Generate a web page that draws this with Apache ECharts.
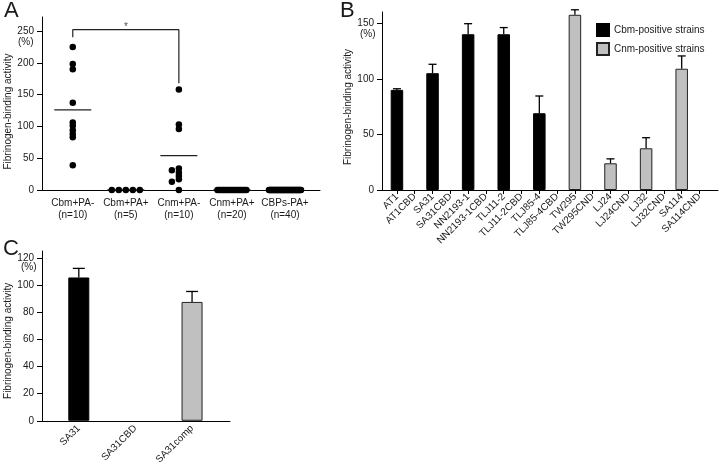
<!DOCTYPE html>
<html><head><meta charset="utf-8">
<script src="https://cdn.jsdelivr.net/npm/echarts@6/dist/echarts.min.js"></script>
<style>html,body{margin:0;padding:0;background:#fff}#c{width:720px;height:467px}</style>
</head><body><div id="c"></div>
<script>
// ---------- Panel A data ----------
const catsA = ['Cbm+PA-', 'Cbm+PA+', 'Cnm+PA-', 'Cnm+PA+', 'CBPs-PA+'];
const countsA = ['(n=10)', '(n=5)', '(n=10)', '(n=20)', '(n=40)'];
const valsCbmPAneg = [225, 198, 190, 137, 106, 101, 94, 88, 83, 39];
const valsCbmPApos = [0, 0, 0, 0, 0];
const valsCnmPAneg = [158, 103, 96, 34, 31, 27, 22, 17, 13, 0];
const valsCnmPApos = [0, 0, 0, 0, 0, 0, 0, 0, 0, 0, 0, 0, 0, 0, 0, 0, 0, 0, 0, 0];
const valsCBPsPApos = [0, 0, 0, 0, 0, 0, 0, 0, 0, 0, 0, 0, 0, 0, 0, 0, 0, 0, 0, 0,
                       0, 0, 0, 0, 0, 0, 0, 0, 0, 0, 0, 0, 0, 0, 0, 0, 0, 0, 0, 0];
const meansA = [126, 0, 54, 0, 0];
const ticksA = [0, 50, 100, 150, 200, 250];
const bracketA = { from: 1, to: 3, top: 252, leftEnd: 240, rightEnd: 168, mark: '*' };

// ---------- Panel B data ----------
const cbmStrains = ['AT1', 'AT1CBD', 'SA31', 'SA31CBD', 'NN2193-1', 'NN2193-1CBD', 'TLJ11-2', 'TLJ11-2CBD', 'TLJ85-4', 'TLJ85-4CBD'];
const cbmValues = [90, 0, 105, 0, 140, 0, 140, 0, 69, 0];
const cbmErrors = [1, 0, 8, 0, 9.5, 0, 6, 0, 15.5, 0];
const cnmStrains = ['TW295', 'TW295CND', 'LJ24', 'LJ24CND', 'LJ32', 'LJ32CND', 'SA114', 'SA114CND'];
const cnmValues = [157.5, 0, 24, 0, 37.5, 0, 109, 0];
const cnmErrors = [4.5, 0, 4, 0, 9.5, 0, 11.5, 0];
const ticksB = [0, 50, 100, 150];
const legendB = ['Cbm-positive strains', 'Cnm-positive strains'];

// ---------- Panel C data ----------
const catsC = ['SA31', 'SA31CBD', 'SA31comp'];
const valsC = [105.5, 0, 87.5];
const errC = [6.7, 0, 7.7];
const ticksC = [0, 20, 40, 60, 80, 100, 120];

const yName = 'Fibrinogen-binding activity';

// ---------- styling / layout ----------
const FONT = '"Liberation Sans", Arial, sans-serif';
const TXT = '#1a1a1a';
const BLACK = '#000000';
const GRAY = '#c0c0c0';

const gA = { left: 42, top: 17, width: 278, height: 173 };
const xA = { min: 0.42, max: 5.66 };
const yA = { min: 0, max: 272 };
const gB = { left: 382, top: 12, width: 336, height: 178 };
const xB = { min: -0.84, max: 18.04 };
const yB = { min: 0, max: 160 };
const gC = { left: 42, top: 251, width: 188, height: 174 };
const xC = { min: -0.65, max: 2.67 };
const yC = { min: 0, max: 125 };

// beeswarm layout for panel A (pixel-space collision, converted back to axis units)
const pxX = gA.width / (xA.max - xA.min);
const pxY = gA.height / (yA.max - yA.min);
function swarm(vals, pos) {
  const out = [];
  const zeros = vals.filter(v => v === 0).length;
  const placed = [];
  const sorted = vals.filter(v => v !== 0).slice().sort((a, b) => b - a);
  sorted.forEach(v => {
    const steps = [0, -7, 7, -14, 14, -21, 21];
    for (const s of steps) {
      const ok = placed.every(p => Math.hypot(p.dx - s, (p.v - v) * pxY) >= 3);
      if (ok) { placed.push({ v: v, dx: s }); break; }
    }
  });
  placed.forEach(p => out.push([pos + p.dx / pxX, p.v]));
  if (zeros === 1) out.push([pos, 0]);
  else if (zeros > 1) {
    const spread = zeros <= 5 ? (zeros - 1) * 7 : Math.min(26 + zeros * 0.15, 33);
    for (let i = 0; i < zeros; i++) {
      out.push([pos + (-spread / 2 + spread * i / (zeros - 1)) / pxX, 0]);
    }
  }
  return out;
}
const groupsA = [valsCbmPAneg, valsCbmPApos, valsCnmPAneg, valsCnmPApos, valsCBPsPApos];
const dotsA = [];
groupsA.forEach((g, i) => swarm(g, i + 1).forEach(d => dotsA.push(d)));
const meanData = meansA.map((m, i) => [i + 1, m]);

// panel B built data (zero-height bars are left out)
const catsB = cbmStrains.concat(cnmStrains);
const blackData = cbmValues.map((v, i) => v ? [i, v] : [i, '-']);
const grayData = cnmValues.map((v, i) => v ? [i + cbmStrains.length, v] : [i + cbmStrains.length, '-']);
const errDataB = cbmValues.map((v, i) => [i, v, cbmErrors[i]])
  .concat(cnmValues.map((v, i) => [i + cbmStrains.length, v, cnmErrors[i]]));
const idxB = catsB.map((c, i) => i);
const idxC = catsC.map((c, i) => i);

function errRender(capW) {
  return function (params, api) {
    const x = api.value(0), v = api.value(1), e = api.value(2);
    if (!e) return null;
    const p0 = api.coord([x, v]);
    const p1 = api.coord([x, v + e]);
    const st = { stroke: BLACK, lineWidth: 1.3 };
    return {
      type: 'group', children: [
        { type: 'line', shape: { x1: p0[0], y1: p0[1], x2: p1[0], y2: p1[1] }, style: st },
        { type: 'line', shape: { x1: p1[0] - capW / 2, y1: p1[1], x2: p1[0] + capW / 2, y2: p1[1] }, style: st }
      ]
    };
  };
}

function yAxisCfg(gi, lim, ticks, gap, shift) {
  return {
    type: 'value', gridIndex: gi, min: lim.min, max: lim.max,
    name: yName, nameLocation: 'middle', nameGap: gap, nameRotate: 90,
    nameTextStyle: { fontSize: 10, color: TXT, fontFamily: FONT, padding: [0, shift, 0, 0] },
    axisLine: { show: true, onZero: false, lineStyle: { color: BLACK, width: 1 } },
    axisTick: { show: true, length: 5, customValues: ticks, lineStyle: { color: BLACK } },
    axisLabel: { customValues: ticks, fontSize: 10, color: TXT, fontFamily: FONT, margin: 8 },
    splitLine: { show: false }
  };
}

const chart = echarts.init(document.getElementById('c'), null, { renderer: 'canvas' });
chart.setOption({
  animation: false,
  backgroundColor: '#ffffff',
  textStyle: { fontFamily: FONT },
  graphic: [
    { type: 'text', left: 4, top: 0, style: { text: 'A', fontSize: 22, fill: TXT, fontFamily: FONT } },
    { type: 'text', left: 340, top: 0, style: { text: 'B', fontSize: 22, fill: TXT, fontFamily: FONT } },
    { type: 'text', left: 3, top: 238, style: { text: 'C', fontSize: 22, fill: TXT, fontFamily: FONT } },
    { type: 'text', left: 18, top: 37, style: { text: '(%)', fontSize: 10, fill: TXT, fontFamily: FONT } },
    { type: 'text', left: 360, top: 29, style: { text: '(%)', fontSize: 10, fill: TXT, fontFamily: FONT } },
    { type: 'text', left: 21, top: 262, style: { text: '(%)', fontSize: 10, fill: TXT, fontFamily: FONT } }
  ],
  legend: {
    data: legendB, orient: 'vertical', left: 591, top: 18, itemWidth: 12, itemHeight: 12, itemGap: 5,
    icon: 'rect', textStyle: { fontSize: 10, color: TXT, fontFamily: FONT }
  },
  grid: [Object.assign({}, gA), Object.assign({}, gB), Object.assign({}, gC)],
  xAxis: [
    {
      type: 'value', gridIndex: 0, min: xA.min, max: xA.max,
      axisLine: { show: true, onZero: false, lineStyle: { color: BLACK } },
      axisTick: { show: false },
      axisLabel: {
        customValues: [1, 2, 3, 4, 5], fontSize: 10, color: TXT, fontFamily: FONT, margin: 7, lineHeight: 12,
        formatter: v => catsA[Math.round(v) - 1] + '\n' + countsA[Math.round(v) - 1]
      },
      splitLine: { show: false }
    },
    {
      type: 'value', gridIndex: 1, min: xB.min, max: xB.max,
      axisLine: { show: true, onZero: false, lineStyle: { color: BLACK } },
      axisTick: { show: true, length: 4, customValues: idxB, lineStyle: { color: BLACK } },
      axisLabel: {
        customValues: idxB, rotate: 45, fontSize: 10, color: TXT, fontFamily: FONT, margin: 5,
        formatter: v => catsB[Math.round(v)]
      },
      splitLine: { show: false }
    },
    {
      type: 'value', gridIndex: 2, min: xC.min, max: xC.max,
      axisLine: { show: true, onZero: false, lineStyle: { color: BLACK } },
      axisTick: { show: false },
      axisLabel: {
        customValues: idxC, rotate: 45, fontSize: 10, color: TXT, fontFamily: FONT, margin: 6,
        formatter: v => catsC[Math.round(v)]
      },
      splitLine: { show: false }
    }
  ],
  yAxis: [
    yAxisCfg(0, yA, ticksA, 29, 16),
    yAxisCfg(1, yB, ticksB, 24, 12),
    yAxisCfg(2, yC, ticksC, 27, 10)
  ],
  series: [
    {
      type: 'scatter', xAxisIndex: 0, yAxisIndex: 0, data: dotsA, symbol: 'circle', symbolSize: 6.5,
      itemStyle: { color: BLACK, opacity: 1 }, z: 3
    },
    {
      type: 'scatter', xAxisIndex: 0, yAxisIndex: 0, data: meanData, symbol: 'rect', symbolSize: [37, 1.3],
      itemStyle: { color: '#222', opacity: 1 }, z: 2
    },
    {
      type: 'line', xAxisIndex: 0, yAxisIndex: 0, symbol: 'none',
      data: [[bracketA.from, bracketA.leftEnd], [bracketA.from, bracketA.top], [bracketA.to, bracketA.top], [bracketA.to, bracketA.rightEnd]],
      lineStyle: { color: '#222', width: 1.2 }
    },
    {
      type: 'scatter', xAxisIndex: 0, yAxisIndex: 0, symbolSize: 0,
      data: [[(bracketA.from + bracketA.to) / 2, bracketA.top]],
      label: { show: true, formatter: bracketA.mark, position: 'top', distance: 1, offset: [0, 4], fontSize: 10, color: TXT }
    },
    {
      name: legendB[0], type: 'bar', xAxisIndex: 1, yAxisIndex: 1, data: blackData, barWidth: 12.5, barGap: '-100%',
      itemStyle: { color: BLACK, borderColor: BLACK, borderWidth: 1 }
    },
    {
      name: legendB[1], type: 'bar', xAxisIndex: 1, yAxisIndex: 1, data: grayData, barWidth: 12.5, barGap: '-100%',
      itemStyle: { color: GRAY, borderColor: '#222', borderWidth: 1 }
    },
    {
      type: 'custom', xAxisIndex: 1, yAxisIndex: 1, data: errDataB, renderItem: errRender(8),
      encode: { x: 0, y: 1 }, z: 4
    },
    {
      type: 'bar', xAxisIndex: 2, yAxisIndex: 2, barWidth: 21,
      data: valsC.map((v, i) => ({
        value: [i, v ? v : '-'],
        itemStyle: i === 2 ? { color: GRAY, borderColor: '#222', borderWidth: 1 } : { color: BLACK, borderColor: BLACK, borderWidth: 1 }
      }))
    },
    {
      type: 'custom', xAxisIndex: 2, yAxisIndex: 2, data: valsC.map((v, i) => [i, v, errC[i]]),
      renderItem: errRender(12), encode: { x: 0, y: 1 }, z: 4
    }
  ]
});
</script>
</body></html>
